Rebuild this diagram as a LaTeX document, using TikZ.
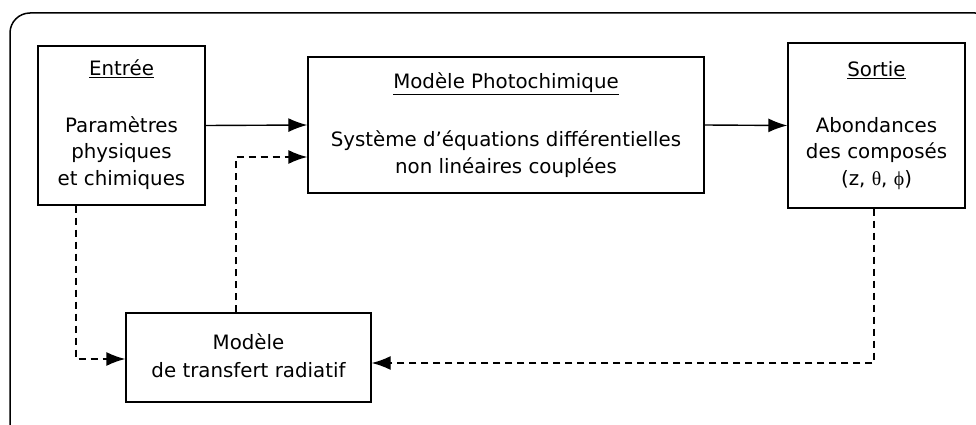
\documentclass[tikz,border=0pt]{standalone}
\usepackage{fontspec}
\setmainfont{DejaVu Sans}
\newfontfamily\grkfont{Liberation Serif}
\usetikzlibrary{arrows.meta}
\begin{document}
\begin{tikzpicture}[x=1pt,y=-1pt,
  box/.style={draw, line width=1.4pt, inner sep=0pt, rectangle},
  txt/.style={anchor=base, inner sep=0pt, font=\fontsize{19.8}{25}\selectfont},
  solidarrow/.style={line width=1.4pt, -{Latex[length=19pt,width=14pt]}},
  dsh/.style={line width=1.4pt, dash pattern=on 7pt off 5pt, -{Latex[length=19pt,width=14pt]}},
  frame/.style={line width=1.5pt, rounded corners=20pt}]
\useasboundingbox (0,0) rectangle (976,425);
\clip (0,0) rectangle (976,425);
\draw[frame] (10,13) rectangle (995,445);

% boxes
\node[box, minimum width=167pt, minimum height=159pt] (ent) at (121.5,125.5) {};
\node[box, minimum width=396pt, minimum height=136pt] (pho) at (506,125) {};
\node[box, minimum width=177pt, minimum height=165pt] (sor) at (876.5,125.5) {};
\node[box, minimum width=245pt, minimum height=89pt] (rad) at (248.5,357.5) {};

% texts
\node[txt] (t1) at (121.5,76) {\underline{Entrée}};
\node[txt] (t2) at (121.5,132) {Paramètres};
\node[txt] (t3) at (121.5,158.5) {physiques};
\node[txt] (t4) at (121.5,185) {et chimiques};

\node[txt] (p1) at (506,89) {\underline{Modèle Photochimique}};
\node[txt] (p2) at (506,146) {Système d’équations différentielles};
\node[txt] (p3) at (506,173) {non linéaires couplées};

\node[txt] (s1) at (876.5,77) {\underline{Sortie}};
\node[txt] (s2) at (876.5,132) {Abondances};
\node[txt] (s3) at (876.5,158.5) {des composés};
\node[txt] (s4) at (876.5,185) {(z, {\grkfont θ}, {\grkfont ϕ})};

\node[txt] (r1) at (248.5,349) {Modèle};
\node[txt] (r2) at (248.5,377) {de transfert radiatif};

% connectors
\draw[solidarrow] (ent.east) -- (pho.west);
\draw[solidarrow] (pho.east) -- (sor.west);
\draw[dsh] ([xshift=-12.5pt]rad.north) |- ([yshift=-32pt]pho.west);
\draw[dsh] ([xshift=-45.5pt]ent.south) |- ([yshift=-1.5pt]rad.west);
\draw[dsh] ([xshift=-2.5pt]sor.south) |- ([yshift=-5.5pt]rad.east);
\end{tikzpicture}
\end{document}
